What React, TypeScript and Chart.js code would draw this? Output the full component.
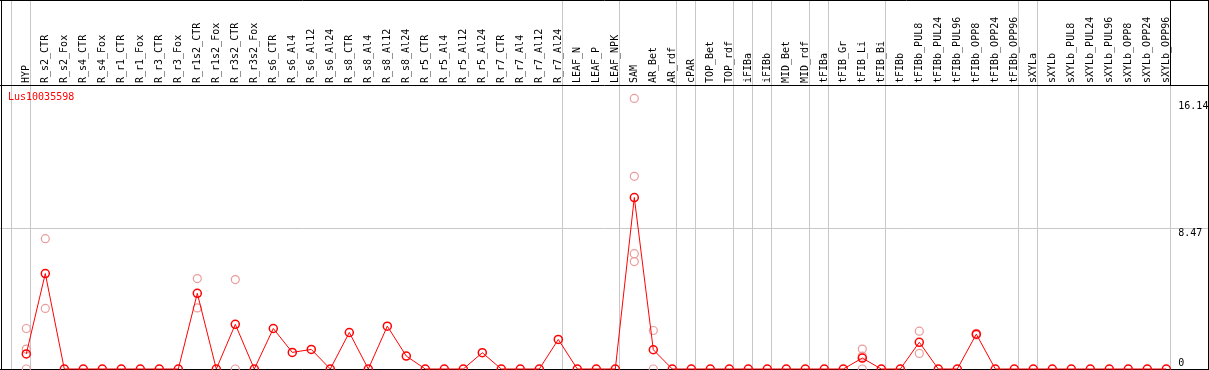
import React, { useEffect, useRef } from "react";
import { Chart, registerables } from "chart.js";

Chart.register(...registerables);

const categories = [
  "HYP", "R_s2_CTR", "R_s2_Fox", "R_s4_CTR", "R_s4_Fox", "R_r1_CTR", "R_r1_Fox", "R_r3_CTR", "R_r3_Fox",
  "R_r1s2_CTR", "R_r1s2_Fox", "R_r3s2_CTR", "R_r3s2_Fox", "R_s6_CTR", "R_s6_Al4", "R_s6_Al12", "R_s6_Al24",
  "R_s8_CTR", "R_s8_Al4", "R_s8_Al12", "R_s8_Al24", "R_r5_CTR", "R_r5_Al4", "R_r5_Al12", "R_r5_Al24",
  "R_r7_CTR", "R_r7_Al4", "R_r7_Al12", "R_r7_Al24", "LEAF_N", "LEAF_P", "LEAF_NPK", "SAM", "AR_Bet", "AR_rdf",
  "cPAR", "TOP_Bet", "TOP_rdf", "iFIBa", "iFIBb", "MID_Bet", "MID_rdf", "tFIBa", "tFIB_Gr", "tFIB_Li", "tFIB_Bi",
  "tFIBb", "tFIBb_PUL8", "tFIBb_PUL24", "tFIBb_PUL96", "tFIBb_OPP8", "tFIBb_OPP24", "tFIBb_OPP96", "sXYLa",
  "sXYLb", "sXYLb_PUL8", "sXYLb_PUL24", "sXYLb_PUL96", "sXYLb_OPP8", "sXYLb_OPP24", "sXYLb_OPP96",
];

const meanValues = [
  0.91, 5.75, 0, 0, 0, 0, 0, 0, 0,
  4.56, 0, 2.69, 0, 2.44, 1.0, 1.18, 0,
  2.2, 0, 2.58, 0.78, 0, 0, 0, 0.98,
  0, 0, 0, 1.78, 0, 0, 0, 10.33, 1.16, 0,
  0, 0, 0, 0, 0, 0, 0, 0, 0, 0.66, 0,
  0, 1.61, 0, 0, 2.1, 0, 0, 0,
  0, 0, 0, 0, 0, 0, 0,
];

const replicateCategories = [
  "HYP", "HYP", "HYP", "R_s2_CTR", "R_s2_CTR", "R_r1s2_CTR", "R_r1s2_CTR", "R_r3s2_CTR", "R_r3s2_CTR",
  "SAM", "SAM", "SAM", "SAM", "AR_Bet", "AR_Bet", "tFIB_Li", "tFIB_Li", "tFIB_Li",
  "tFIBb_PUL8", "tFIBb_PUL8", "tFIBb_OPP8", "tFIBb_OPP8",
];
const replicateValues = [
  2.44, 1.2, 0, 7.85, 3.65, 5.45, 3.68, 5.39, 0,
  16.3, 11.61, 6.95, 6.47, 2.32, 0, 1.2, 0.78, 0,
  2.28, 0.94, 2.15, 2.05,
];

const yTickValues = [0, 8.47, 16.14];
const yTickLabels = ["0", "8.47", "16.14"];
const separatorAfter = [-1, 0, 28, 31, 34, 35, 37, 38, 39, 41, 42, 45, 52, 53, 60];
const geneName = "Lus10035598";
const yMax = 17.05;

const FONT = "10px 'DejaVu Sans Mono'";

const framePlugin = {
  id: "frame",
  beforeDatasetsDraw(chart: any) {
    const { ctx, width, height } = chart;
    const x = chart.scales.x;
    const y = chart.scales.y;
    const top = chart.chartArea.top;
    const base = Math.round(y.getPixelForValue(0));
    ctx.save();
    ctx.lineWidth = 1;
    ctx.strokeStyle = "#c8c8c8";
    separatorAfter.forEach((i) => {
      const px = Math.round(x.getPixelForValue(i) + 3.7) + 0.5;
      ctx.beginPath();
      ctx.moveTo(px, 0);
      ctx.lineTo(px, base);
      ctx.stroke();
    });
    const gy = Math.round(y.getPixelForValue(yTickValues[1])) + 0.5;
    ctx.beginPath();
    ctx.moveTo(0, gy);
    ctx.lineTo(width, gy);
    ctx.stroke();
    ctx.strokeStyle = "#000";
    const lastSep = Math.round(x.getPixelForValue(separatorAfter[separatorAfter.length - 1]) + 3.7) + 0.5;
    ctx.beginPath();
    ctx.moveTo(0, 0.5); ctx.lineTo(width, 0.5);
    ctx.moveTo(0, Math.round(top) - 0.5); ctx.lineTo(width, Math.round(top) - 0.5);
    ctx.moveTo(0, base + 0.5); ctx.lineTo(width, base + 0.5);
    ctx.moveTo(1.5, 0); ctx.lineTo(1.5, height);
    ctx.moveTo(width - 0.5, 0); ctx.lineTo(width - 0.5, height);
    ctx.moveTo(lastSep, 0); ctx.lineTo(lastSep, Math.round(top));
    ctx.stroke();
    ctx.restore();
  },
  afterDraw(chart: any) {
    const { ctx } = chart;
    const y = chart.scales.y;
    ctx.save();
    ctx.font = FONT;
    ctx.textAlign = "left";
    ctx.textBaseline = "alphabetic";
    ctx.fillStyle = "#000";
    yTickValues.forEach((v, i) => {
      const p = y.getPixelForValue(v);
      let by = p + 8;
      if (by > chart.chartArea.bottom) by = p - 3;
      ctx.fillText(yTickLabels[i], y.left + 12, by);
    });
    ctx.fillStyle = "#ff0000";
    ctx.fillText(geneName, 8, 100);
    ctx.restore();
  },
};

export default function App() {
  const ref = useRef<HTMLCanvasElement>(null);
  useEffect(() => {
    document.body.style.margin = "0";
    const chart = new Chart(ref.current!, {
      type: "line",
      data: {
        labels: categories,
        datasets: [
          {
            data: meanValues,
            borderColor: "#ff0000",
            borderWidth: 1,
            pointRadius: 4,
            pointBorderWidth: 1.5,
            pointBorderColor: "#ff0000",
            pointBackgroundColor: "rgba(0,0,0,0)",
            tension: 0,
            clip: false as any,
            order: 0,
          },
          {
            data: replicateCategories.map((c, i) => ({ x: c, y: replicateValues[i] })) as any,
            showLine: false,
            pointRadius: 4,
            pointBorderWidth: 1.2,
            pointBorderColor: "#ec9a9a",
            pointBackgroundColor: "rgba(0,0,0,0)",
            clip: false as any,
            order: 1,
          },
        ],
      },
      options: {
        animation: false,
        responsive: false,
        devicePixelRatio: 1,
        events: [],
        layout: { autoPadding: false, padding: { left: 26.3, right: 0, top: 0, bottom: 1 } },
        plugins: { legend: { display: false }, tooltip: { enabled: false } },
        scales: {
          x: {
            type: "category",
            position: "top",
            offset: false,
            grid: { display: false, drawTicks: false },
            border: { display: false },
            ticks: {
              autoSkip: false,
              minRotation: 90,
              maxRotation: 90,
              padding: 3,
              labelOffset: 12,
              color: "#000",
              font: { family: "'DejaVu Sans Mono'", size: 10 },
            },
            afterFit: (s: any) => { s.height = 86; },
          },
          y: {
            position: "right",
            min: 0,
            max: yMax,
            grid: { display: false },
            border: { display: false },
            ticks: { display: false },
            afterFit: (s: any) => { s.width = 42.7; },
          },
        },
      },
      plugins: [framePlugin],
    });
    return () => chart.destroy();
  }, []);
  return (
    <div style={{ position: "absolute", left: 0, top: 0, width: 1209, height: 370 }}>
      <canvas ref={ref} width={1209} height={370} style={{ display: "block" }} />
    </div>
  );
}
